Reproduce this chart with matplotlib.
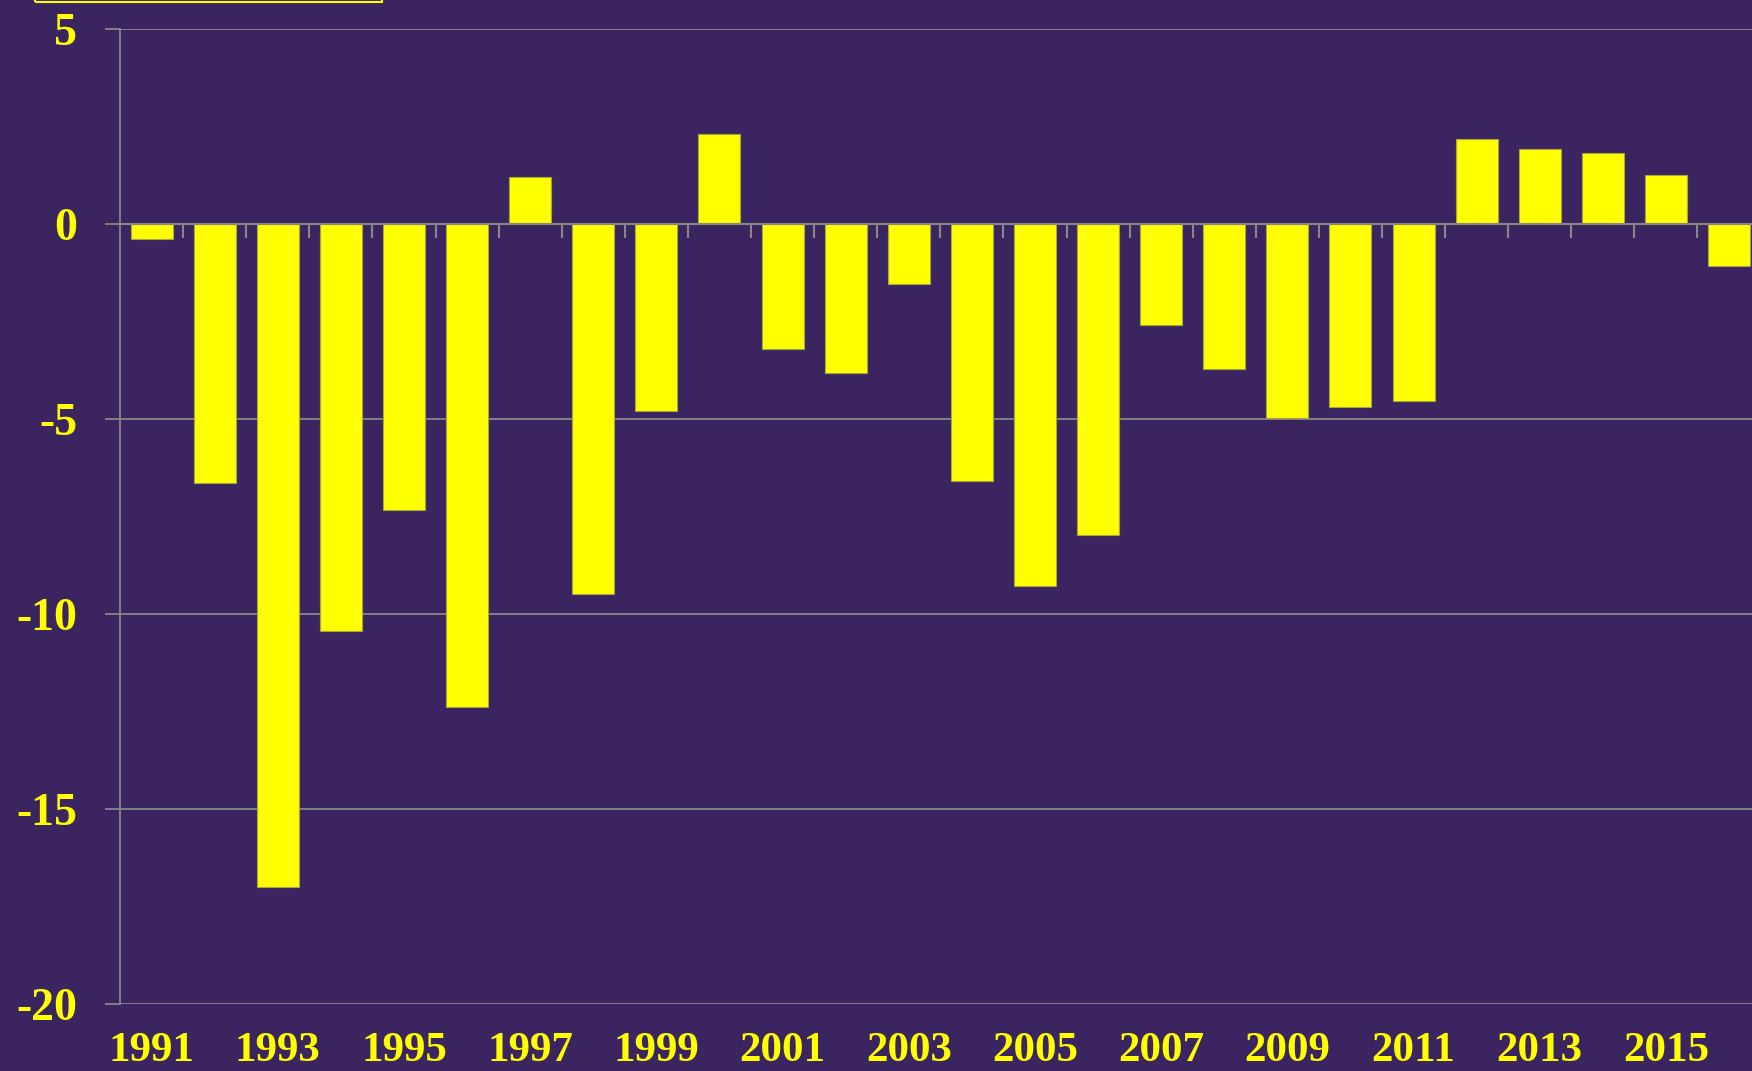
import numpy as np
import matplotlib
matplotlib.use("Agg")
import matplotlib.pyplot as plt
from matplotlib.patches import Rectangle

years = list(range(1991, 2017))
values = [-0.4, -6.65, -17.0, -10.45, -7.35, -12.4, 1.2, -9.5, -4.8, 2.3,
          -3.2, -3.83, -1.55, -6.6, -9.29, -7.98, -2.59, -3.72, -4.97, -4.71,
          -4.55, 2.18, 1.93, 1.81, 1.25, -1.07]
year_labels = [str(y) for y in years[::2] if y <= 2015]
y_ticks = [5, 0, -5, -10, -15, -20]

BG = '#3b2560'
YELLOW = '#ffff00'
GRID = '#878787'

plt.rcParams['font.family'] = ['Liberation Serif', 'DejaVu Serif']
plt.rcParams['font.weight'] = 'bold'

W, H = 1752, 1071
fig = plt.figure(figsize=(W / 100, H / 100), dpi=100, facecolor=BG)

# plot area runs past the right edge, as in the original crop
left, right, bottom, top = 120, 1760.6, 1003.5, 29
ax = fig.add_axes([left / W, (H - bottom) / H, (right - left) / W, (bottom - top) / H])
ax.set_facecolor(BG)

x = np.arange(len(years))
ax.bar(x, values, width=0.665, color=YELLOW, edgecolor='#a5a53c', linewidth=0.8, zorder=3)

ax.set_xlim(-0.5, len(years) - 0.5)
ax.set_ylim(-20, 5)

ax.set_yticks(y_ticks)
ax.set_yticklabels([str(v) for v in y_ticks])
ax.yaxis.grid(True, color=GRID, linewidth=1.3, zorder=0)
ax.tick_params(axis='y', direction='out', length=10.8, width=1.3, color=GRID,
               labelcolor=YELLOW, labelsize=33, pad=20)

# category axis crosses at zero, tick marks between the bars
for s in ['top', 'right']:
    ax.spines[s].set_visible(False)
ax.spines['left'].set_color(GRID)
ax.spines['left'].set_linewidth(1.3)
ax.spines['bottom'].set_position(('data', 0))
ax.spines['bottom'].set_color(GRID)
ax.spines['bottom'].set_linewidth(1.5)
ax.spines['bottom'].set_zorder(4)
ax.set_xticks(np.arange(0.5, len(years) - 0.5, 1))
ax.set_xticklabels([])
ax.tick_params(axis='x', direction='out', length=10, width=1.5, color=GRID)

# year labels sit below the plot area
for i, y in enumerate(years):
    if str(y) in year_labels:
        ax.annotate(str(y), xy=(i, 0), xycoords=('data', 'axes fraction'),
                    xytext=(0, -41.5), textcoords='offset points',
                    ha='center', va='baseline', color=YELLOW,
                    fontsize=31, fontweight='bold')

# border of a title box cut off at the top
fig.patches.append(Rectangle((35 / W, (H - 2) / H), (382 - 35) / W, 20 / H,
                             transform=fig.transFigure, fill=False,
                             edgecolor=YELLOW, linewidth=1.5))

fig.savefig('out.png', dpi=100, facecolor=BG)
